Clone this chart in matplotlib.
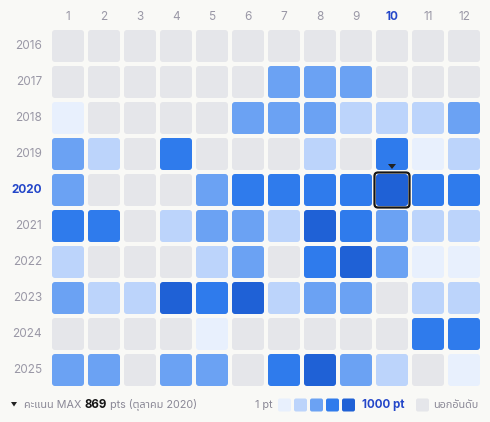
import numpy as np
import matplotlib
matplotlib.use("Agg")
import matplotlib.pyplot as plt
from matplotlib.patches import FancyBboxPatch, Polygon

plt.rcParams['font.family'] = ['Inter', 'Noto Sans Thai', 'IBM Plex Sans Thai Looped', 'Sarabun', 'DejaVu Sans']

months = ['1', '2', '3', '4', '5', '6', '7', '8', '9', '10', '11', '12']
years = ['2016', '2017', '2018', '2019', '2020', '2021', '2022', '2023', '2024', '2025']
# score level per cell: 0 = not ranked, 1..5 = light -> dark
levels = [
    [0, 0, 0, 0, 0, 0, 0, 0, 0, 0, 0, 0],
    [0, 0, 0, 0, 0, 0, 3, 3, 3, 0, 0, 0],
    [1, 0, 0, 0, 0, 3, 3, 3, 2, 2, 2, 3],
    [3, 2, 0, 4, 0, 0, 0, 2, 0, 4, 1, 2],
    [3, 0, 0, 0, 3, 4, 4, 4, 4, 5, 4, 4],
    [4, 4, 0, 2, 3, 3, 2, 5, 4, 3, 2, 2],
    [2, 0, 0, 0, 2, 3, 0, 4, 5, 3, 1, 1],
    [3, 2, 2, 5, 4, 5, 2, 3, 3, 0, 2, 2],
    [0, 0, 0, 0, 1, 0, 0, 0, 0, 0, 4, 4],
    [3, 3, 0, 3, 3, 0, 4, 5, 3, 2, 0, 1],
]
max_year, max_month = '2020', '10'
max_pts = 869

palette = ['#e5e6ea', '#e8f0fd', '#bcd4fb', '#6ba2f3', '#2f7bec', '#1f61d6']
bg = '#f9f9f6'
label_col = '#9a98a6'
hi_col = '#2447c9'

W, H = 490, 422
fig = plt.figure(figsize=(W / 100, H / 100), dpi=100, facecolor=bg)
ax = fig.add_axes([0, 0, 1, 1])
ax.set_xlim(0, W)
ax.set_ylim(H, 0)
ax.axis('off')

x0, y0, step, size = 52, 30, 36, 32

for j, m in enumerate(months):
    hl = m == max_month
    ax.text(x0 + j * step + size / 2, 17, m, ha='center', va='center', fontsize=8.5,
            color=hi_col if hl else label_col, fontweight='bold' if hl else 'normal')

for i, y in enumerate(years):
    hl = y == max_year
    ax.text(42, y0 + i * step + size / 2, y, ha='right', va='center', fontsize=8.5,
            color=hi_col if hl else label_col, fontweight='bold' if hl else 'normal')
    for j in range(len(months)):
        ax.add_patch(FancyBboxPatch((x0 + j * step + 3, y0 + i * step + 3), size - 6, size - 6,
                                    boxstyle='round,pad=3', fc=palette[levels[i][j]], ec='none'))

# highlight max cell
mi, mj = years.index(max_year), months.index(max_month)
cx, cy = x0 + mj * step, y0 + mi * step
ax.add_patch(FancyBboxPatch((cx + 2, cy + 2), size - 4, size - 4, boxstyle='round,pad=3.5',
                            fc='none', ec='#151515', lw=1.6))
tx = cx + size / 2
ax.add_patch(Polygon([[tx - 4, cy - 10], [tx + 4, cy - 10], [tx, cy - 5]], closed=True,
                     fc='#222222', ec='none'))

# bottom legend
ly = 405
ax.add_patch(Polygon([[11, ly - 3], [17, ly - 3], [14, ly + 1.5]], closed=True, fc='#222222', ec='none'))
fig.canvas.draw()
r = fig.canvas.get_renderer()
inv = ax.transData.inverted()


def put(x, s, **kw):
    t = ax.text(x, ly, s, ha='left', va='center', **kw)
    bb = t.get_window_extent(r)
    return inv.transform((bb.x1, bb.y0))[0]


x = put(24, 'คะแนน MAX ', fontsize=7.8, color='#8a8896')
x = put(x, str(max_pts), fontsize=8.3, color='#151515', fontweight='bold')
put(x, ' pts (ตุลาคม 2020)', fontsize=7.8, color='#8a8896')

ax.text(272, ly, '1 pt', ha='right', va='center', fontsize=7.8, color='#8a8896')
for k in range(1, 6):
    ax.add_patch(FancyBboxPatch((278 + (k - 1) * 16 + 2, ly - 6.5 + 2), 9, 9,
                                boxstyle='round,pad=2', fc=palette[k], ec='none'))
ax.text(362, ly, '1000 pt', ha='left', va='center', fontsize=8.3, color=hi_col, fontweight='bold')
ax.add_patch(FancyBboxPatch((416 + 2, ly - 6.5 + 2), 9, 9, boxstyle='round,pad=2',
                            fc=palette[0], ec='none'))
ax.text(433, ly, 'นอกอันดับ', ha='left', va='center', fontsize=7.8, color='#8a8896')

fig.savefig('out.png', dpi=100, facecolor=bg)
